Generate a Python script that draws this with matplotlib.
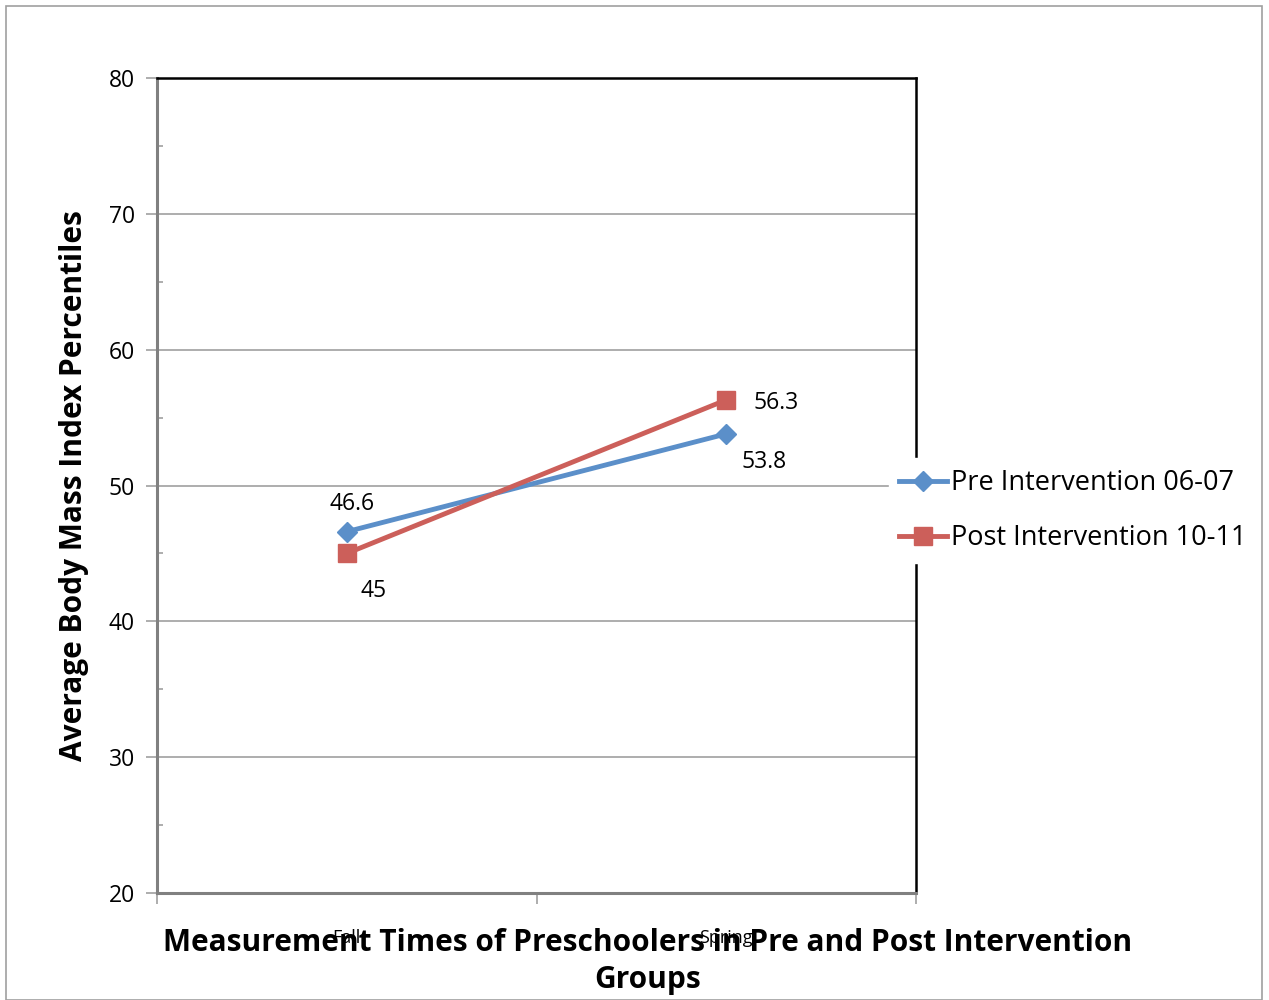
import matplotlib.pyplot as plt
from matplotlib.patches import Rectangle

plt.rcParams["font.family"] = ["Open Sans", "DejaVu Sans"]

times = ["Fall", "Spring"]
pre = [46.6, 53.8]
post = [45.0, 56.3]
series_names = ["Pre Intervention 06-07", "Post Intervention 10-11"]
colors = ["#5b8fc9", "#cc5f5a"]

fig = plt.figure(figsize=(12.69, 10.0), dpi=100)
fig.patches.append(Rectangle((6 / 1269, 0), 1256 / 1269, 994 / 1000, transform=fig.transFigure,
                             fill=False, edgecolor="#a0a0a0", linewidth=1.2))
ax = fig.add_axes([157 / 1269, 107 / 1000, 759 / 1269, 815 / 1000])

x = list(range(len(times)))
ax.plot(x, pre, color=colors[0], linewidth=3.5, marker="D", markersize=10,
        label=series_names[0], zorder=3)
ax.plot(x, post, color=colors[1], linewidth=3.5, marker="s", markersize=13,
        label=series_names[1], zorder=3)

# data labels
offsets_pre = [(4, 20), (27, -20)]
offsets_post = [(19, -27), (36, -2)]
for i, v in enumerate(pre):
    ax.annotate(f"{v:g}", (x[i], v), xytext=offsets_pre[i], textcoords="offset points",
                ha="center", va="center", fontsize=16.5)
for i, v in enumerate(post):
    ax.annotate(f"{v:g}", (x[i], v), xytext=offsets_post[i], textcoords="offset points",
                ha="center", va="center", fontsize=16.5)

ax.set_xlim(-0.5, 1.5)
ax.set_ylim(20, 80)
ax.set_yticks(range(20, 81, 10))
ax.set_yticks(range(25, 80, 10), minor=True)
ax.set_xticks([-0.5, 0.5, 1.5])
ax.set_xticklabels([])
ax.tick_params(axis="y", which="major", length=8, width=1.2, color="#a0a0a0", labelsize=16.5, pad=8)
ax.tick_params(axis="y", which="minor", length=4, width=1.2, color="#a0a0a0", direction="in")
ax.tick_params(axis="x", length=8, width=1.2, color="#a0a0a0")
ax.grid(axis="y", color="#a0a0a0", linewidth=1.2)
ax.set_axisbelow(True)
for s in ["left", "bottom"]:
    ax.spines[s].set_color("#808080")
    ax.spines[s].set_linewidth(2.2)
for s in ["top", "right"]:
    ax.spines[s].set_color("#000000")
    ax.spines[s].set_linewidth(1.8)

for i, t in enumerate(times):
    ax.text(x[i], -0.055, t, transform=ax.get_xaxis_transform(), ha="center", va="center",
            fontsize=13)

ax.set_ylabel("Average Body Mass Index Percentiles", fontsize=21.5, fontweight="bold", labelpad=14)
fig.text(648 / 1269, 0.0385, "Measurement Times of Preschoolers in Pre and Post Intervention\nGroups",
         ha="center", va="center", fontsize=21.5, fontweight="bold", linespacing=1.28)

leg = ax.legend(loc="center left", bbox_to_anchor=(0.946, 0.469), frameon=True, fontsize=19.5,
                handlelength=1.75, handletextpad=0.15, borderpad=0.4, labelspacing=1.0,
                fancybox=False, edgecolor="white", framealpha=1.0)
leg.set_zorder(5)

fig.savefig("out.png", dpi=100)
